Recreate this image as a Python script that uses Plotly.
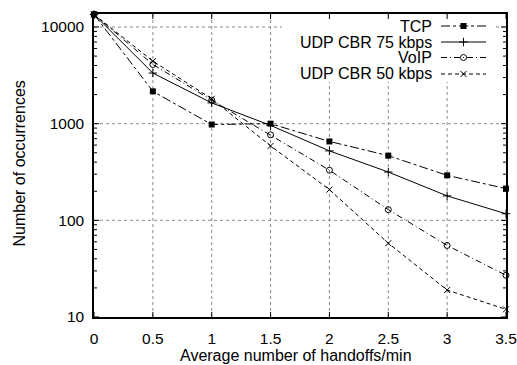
import plotly.graph_objects as go

# Handoff rate (handoffs/min) and occurrence counts per traffic type
handoff_rate = [0, 0.5, 1, 1.5, 2, 2.5, 3, 3.5]
tcp = [13500, 2160, 980, 1000, 655, 467, 292, 213]
udp_cbr_75 = [13500, 3340, 1640, 960, 523, 316, 179, 117]
voip = [13500, 4100, 1750, 766, 330, 129, 55, 27]
udp_cbr_50 = [13500, 4440, 1810, 589, 208, 58, 19, 12]

series_names = ["TCP", "UDP CBR 75 kbps", "VoIP", "UDP CBR 50 kbps"]
x_ticks = [0, 0.5, 1, 1.5, 2, 2.5, 3, 3.5]
x_tick_labels = ["0", "0.5", "1", "1.5", "2", "2.5", "3", "3.5"]
y_ticks = [10, 100, 1000, 10000]
y_tick_labels = ["10", "100", "1000", "10000"]
y_minor_ticks = [m * d for d in (10, 100, 1000) for m in range(2, 10)]

FONT = "Liberation Sans, Arial, sans-serif"
FS = 16
TICK_FS = 15.5

# plot area in pixels (left, right, top, bottom)
L, R, T, B = 94, 506, 14, 317
XMAX = 3.5
YMIN, YMAX = 1, 4.1347


def px(x):
    return (x - L) / (R - L)


def py(y):
    return (B - y) / (B - T)


def data_x(x):
    return px(x) * XMAX


def data_y(y):
    return 10 ** (YMIN + py(y) * (YMAX - YMIN))


styles = [
    dict(dash="dashdot", symbol="square", size=6, mline=0),
    dict(dash="solid", symbol="cross-thin", size=6, mline=1),
    dict(dash="6px,3px,1px,3px", symbol="circle-open", size=6, mline=1),
    dict(dash="4px,3px", symbol="x-thin", size=6, mline=1),
]
values = [tcp, udp_cbr_75, voip, udp_cbr_50]

fig = go.Figure()

# dotted grid at the major ticks
grid = dict(color="#8a8a8a", width=1, dash="dot")
for xv in x_ticks[1:-1]:
    fig.add_shape(type="line", xref="x", yref="paper", x0=xv, x1=xv, y0=0, y1=1,
                  line=grid, layer="below")
for yv in y_ticks[1:]:
    fig.add_shape(type="line", xref="paper", yref="y", x0=0, x1=1, y0=yv, y1=yv,
                  line=grid, layer="below")

# white patch behind the key
fig.add_shape(type="rect", xref="x", yref="y",
              x0=data_x(282), x1=data_x(494), y0=data_y(82), y1=data_y(14.8),
              fillcolor="white", line=dict(width=0), layer="below")

# inward tick marks on all four sides
tick_style = dict(color="black", width=1)
major_w, minor_w = 5 / (R - L), 3 / (R - L)
major_h = 5 / (B - T)
for yv in y_ticks:
    for x0, x1 in ((0, major_w), (1 - major_w, 1)):
        fig.add_shape(type="line", xref="paper", yref="y", x0=x0, x1=x1,
                      y0=yv, y1=yv, line=tick_style, layer="above")
for yv in y_minor_ticks:
    for x0, x1 in ((0, minor_w), (1 - minor_w, 1)):
        fig.add_shape(type="line", xref="paper", yref="y", x0=x0, x1=x1,
                      y0=yv, y1=yv, line=tick_style, layer="above")
for xv in x_ticks:
    for y0, y1 in ((0, major_h), (1 - major_h, 1)):
        fig.add_shape(type="line", xref="x", yref="paper", x0=xv, x1=xv,
                      y0=y0, y1=y1, line=tick_style, layer="above")

for name, ys, st in zip(series_names, values, styles):
    fig.add_trace(go.Scatter(
        x=handoff_rate, y=ys, name=name, mode="lines+markers",
        line=dict(color="black", width=1, dash=st["dash"]),
        marker=dict(symbol=st["symbol"], size=st["size"], color="black",
                    line=dict(color="black", width=st["mline"])),
        showlegend=False, cliponaxis=False,
    ))

# Key: label right-aligned with the line sample to its right
row_y = [26, 42, 57.5, 74]
for name, st, yy in zip(series_names, styles, row_y):
    fig.add_trace(go.Scatter(
        x=[px(441), px(486)], y=[py(yy), py(yy)], mode="lines",
        xaxis="x2", yaxis="y2",
        line=dict(color="black", width=1, dash=st["dash"]), showlegend=False,
        hoverinfo="skip",
    ))
    fig.add_trace(go.Scatter(
        x=[px(463.5)], y=[py(yy)], mode="markers", xaxis="x2", yaxis="y2",
        marker=dict(symbol=st["symbol"], size=st["size"], color="black",
                    line=dict(color="black", width=st["mline"])),
        showlegend=False, hoverinfo="skip",
    ))
    fig.add_annotation(
        x=px(434), y=py(yy), xref="paper", yref="paper", text=name,
        showarrow=False, xanchor="right", yanchor="middle",
        font=dict(family=FONT, size=FS, color="black"),
    )

# axis titles
fig.add_annotation(
    x=px(296), y=py(355), xref="paper", yref="paper",
    text="Average number of handoffs/min", showarrow=False,
    xanchor="center", yanchor="middle", font=dict(family=FONT, size=FS),
)
fig.add_annotation(
    x=px(18.5), y=py(164), xref="paper", yref="paper",
    text="Number of occurrences", showarrow=False, textangle=-90,
    xanchor="center", yanchor="middle", font=dict(family=FONT, size=FS),
)

# labels pushed off the frame by transparent outward ticks
axis_common = dict(
    showline=True, linecolor="black", linewidth=1.5, mirror=True,
    ticks="outside", tickcolor="rgba(0,0,0,0)", tickwidth=1,
    showgrid=False, zeroline=False, automargin=False,
    tickfont=dict(family=FONT, size=TICK_FS, color="black"),
    layer="above traces",
)

fig.update_layout(
    width=517, height=365,
    margin=dict(l=L, r=517 - R, t=T, b=365 - B),
    paper_bgcolor="white", plot_bgcolor="rgba(0,0,0,0)",
    font=dict(family=FONT, size=FS, color="black"),
    xaxis=dict(range=[0, XMAX], tickvals=x_ticks, ticktext=x_tick_labels,
               ticklen=7, **axis_common),
    yaxis=dict(type="log", range=[YMIN, YMAX], tickvals=y_ticks,
               ticktext=y_tick_labels, ticklen=5, **axis_common),
    xaxis2=dict(range=[0, 1], overlaying="x", visible=False, fixedrange=True),
    yaxis2=dict(range=[0, 1], overlaying="y", visible=False, fixedrange=True),
)

fig.write_html("out.html")
